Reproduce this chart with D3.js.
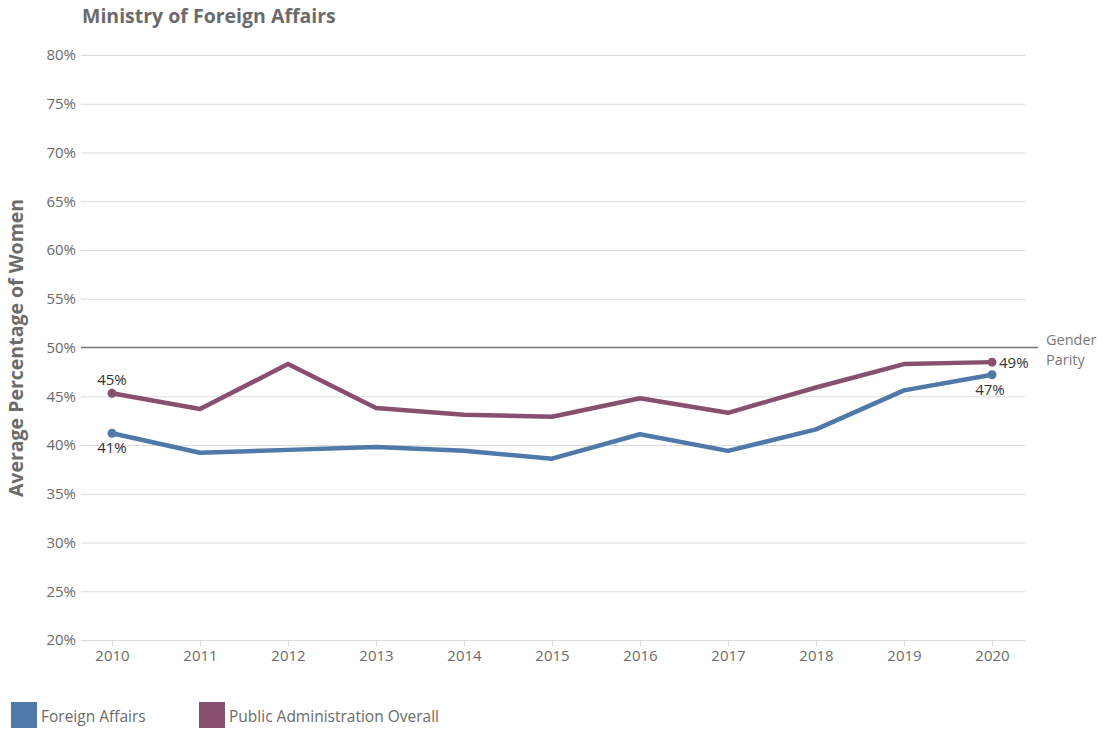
<!DOCTYPE html>
<html>
<head>
<meta charset="utf-8">
<script src="https://cdn.jsdelivr.net/npm/d3@7"></script>
<style>
  body { margin: 0; background: #fff; }
  svg { display: block; font-family: "Open Sans", "Noto Sans", sans-serif; }
</style>
</head>
<body>
<div id="chart"></div>
<script>
var years = [2010, 2011, 2012, 2013, 2014, 2015, 2016, 2017, 2018, 2019, 2020];
var foreignAffairs = [41.2, 39.2, 39.5, 39.8, 39.4, 38.6, 41.1, 39.4, 41.6, 45.6, 47.2];
var publicAdmin = [45.3, 43.7, 48.3, 43.8, 43.1, 42.9, 44.8, 43.3, 45.9, 48.3, 48.5];
var yTicks = [20, 25, 30, 35, 40, 45, 50, 55, 60, 65, 70, 75, 80];
var parity = 50;

var width = 1111, height = 730;
var margin = {top: 55, right: 86, bottom: 90, left: 81};

var blue = "#4e79a8", purple = "#87506f";
var grey = "#6b6b6b";

var svg = d3.select("#chart").append("svg")
    .attr("width", width)
    .attr("height", height);

var x = d3.scaleLinear()
    .domain([2010, 2020])
    .range([112, 992]);

var y = d3.scaleLinear()
    .domain([20, 80])
    .range([height - margin.bottom, margin.top]);

// title
svg.append("text")
    .attr("x", 82)
    .attr("y", 23)
    .attr("fill", grey)
    .style("font-size", "19.5px")
    .style("font-weight", "bold")
    .text("Ministry of Foreign Affairs");

// y axis title
svg.append("text")
    .attr("transform", "translate(23,348) rotate(-90)")
    .attr("text-anchor", "middle")
    .attr("fill", grey)
    .style("font-size", "19.5px")
    .style("font-weight", "bold")
    .text("Average Percentage of Women");

// grid
var gy = svg.append("g")
    .attr("transform", "translate(" + margin.left + ",0)")
    .call(d3.axisLeft(y).tickValues(yTicks)
        .tickSize(-(width - margin.left - margin.right))
        .tickPadding(5)
        .tickFormat(function(d){ return d + "%"; }));
gy.select(".domain").remove();
gy.selectAll(".tick line").attr("stroke", "#dcdcdc");
gy.selectAll(".tick text")
    .attr("fill", grey)
    .style("font-size", "15px")
    .style("font-family", "'Open Sans', sans-serif");
gy.selectAll(".tick").filter(function(d){ return d === parity; }).select("line").remove();

// x axis
var gx = svg.append("g")
    .attr("transform", "translate(0," + y(20) + ")")
    .call(d3.axisBottom(x).tickValues(years).tickSize(6).tickPadding(4)
        .tickFormat(d3.format("d")));
gx.select(".domain").remove();
gx.selectAll(".tick line").attr("stroke", "#dcdcdc");
gx.selectAll(".tick text")
    .attr("fill", grey)
    .style("font-size", "15px")
    .style("font-family", "'Open Sans', sans-serif");

// gender parity line
svg.append("line")
    .attr("x1", margin.left)
    .attr("x2", 1038)
    .attr("y1", y(parity))
    .attr("y2", y(parity))
    .attr("stroke", "#777")
    .attr("stroke-width", 1.5);

svg.append("text")
    .attr("x", 1046)
    .attr("y", y(parity) - 3)
    .attr("fill", "#7a7a7a")
    .style("font-size", "14.5px")
    .text("Gender");
svg.append("text")
    .attr("x", 1046)
    .attr("y", y(parity) + 17)
    .attr("fill", "#7a7a7a")
    .style("font-size", "14.5px")
    .text("Parity");

// lines
var series = [
    {name: "Foreign Affairs", values: foreignAffairs, color: blue},
    {name: "Public Administration Overall", values: publicAdmin, color: purple}
];

var line = d3.line()
    .x(function(d, i){ return x(years[i]); })
    .y(function(d){ return y(d); });

series.forEach(function(s){
    svg.append("path")
        .datum(s.values)
        .attr("fill", "none")
        .attr("stroke", s.color)
        .attr("stroke-width", 4.5)
        .attr("stroke-linejoin", "round")
        .attr("d", line);

    var last = s.values.length - 1;
    [0, last].forEach(function(i){
        svg.append("circle")
            .attr("cx", x(years[i]))
            .attr("cy", y(s.values[i]))
            .attr("r", 4.5)
            .attr("fill", s.color);
    });
});

// end labels
function lbl(xp, yp, txt, anchor){
    svg.append("text")
        .attr("x", xp)
        .attr("y", yp)
        .attr("text-anchor", anchor)
        .attr("fill", "#333")
        .style("font-size", "15px")
        .text(txt);
}
lbl(x(2010), y(publicAdmin[0]) - 8, Math.round(publicAdmin[0]) + "%", "middle");
lbl(x(2010), y(foreignAffairs[0]) + 20, Math.round(foreignAffairs[0]) + "%", "middle");
lbl(x(2020) + 7, y(publicAdmin[10]) + 6, Math.round(publicAdmin[10]) + "%", "start");
lbl(x(2020) - 2, y(foreignAffairs[10]) + 20, Math.round(foreignAffairs[10]) + "%", "middle");

// legend
var legend = svg.append("g");
var legX = [11, 199];
series.forEach(function(s, i){
    legend.append("rect")
        .attr("x", legX[i])
        .attr("y", 702)
        .attr("width", 26)
        .attr("height", 26)
        .attr("fill", s.color);
    legend.append("text")
        .attr("x", legX[i] + 30)
        .attr("y", 722)
        .attr("fill", grey)
        .style("font-size", "15.5px")
        .text(s.name);
});
</script>
</body>
</html>
